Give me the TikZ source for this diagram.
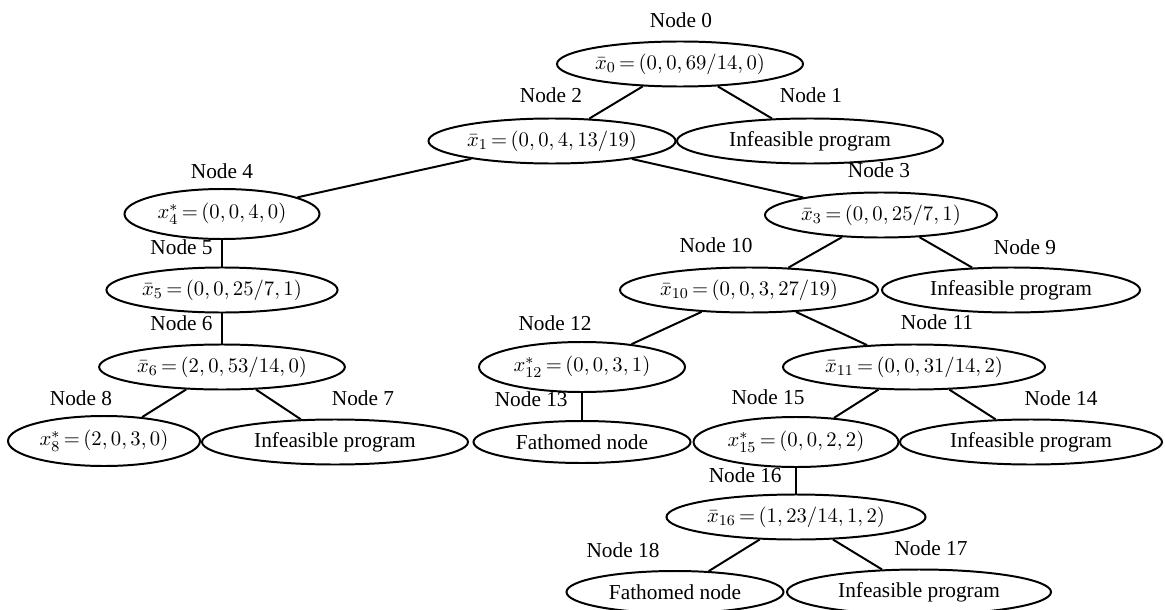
\documentclass[tikz,border=0pt]{standalone}
\usepackage{amsmath}
\usepackage{fontspec}
\setmainfont{Liberation Serif}
\usepackage{tikz}
\usetikzlibrary{shapes.geometric}
\thickmuskip=3mu
\medmuskip=2mu

\tikzset{
  bbnode/.style={draw, ellipse, line width=1.05pt, inner sep=1pt,
    minimum width=#1*0.53pt, minimum height=45*0.53pt},
  bbstar/.style={minimum height=50*0.53pt},
  bbfath/.style={minimum height=42*0.53pt},
  bblabel/.style={inner sep=0pt},
  bbedge/.style={line width=1.05pt}
}

\begin{document}
\begin{tikzpicture}[x=0.53pt,y=0.53pt,yscale=-1,xscale=1,font=\fontsize{11.3}{13.6}\selectfont]
\useasboundingbox (0,0) rectangle (1165,610);

%Ellipses: level 0 and 1
\node[bbnode=246] (n0) at (680,64) {$\bar{x}_0 = (0,0,69/14,0)$};
\node[bbnode=247] (n2) at (552,141) {$\bar{x}_1 = (0,0,4,13/19)$};
\node[bbnode=266] (n1) at (810,141) {Infeasible program};
%Ellipses: level 2
\node[bbnode=195,bbstar] (n4) at (222,214) {$x^*_4 = (0,0,4,0)$};
\node[bbnode=232] (n3) at (881,215) {$\bar{x}_3 = (0,0,25/7,1)$};
%Ellipses: level 3
\node[bbnode=231] (n5) at (222,290) {$\bar{x}_5 = (0,0,25/7,1)$};
\node[bbnode=258] (n10) at (749,290) {$\bar{x}_{10} = (0,0,3,27/19)$};
\node[bbnode=258] (n9) at (1011,290) {Infeasible program};
%Ellipses: level 4
\node[bbnode=245] (n6) at (222,367) {$\bar{x}_6 = (2,0,53/14,0)$};
\node[bbnode=206,bbstar] (n12) at (582,367) {$x^*_{12} = (0,0,3,1)$};
\node[bbnode=262] (n11) at (914,367) {$\bar{x}_{11} = (0,0,31/14,2)$};
%Ellipses: level 5
\node[bbnode=192,bbstar] (n8) at (104,441) {$x^*_8 = (2,0,3,0)$};
\node[bbnode=266] (n7) at (335,442) {Infeasible program};
\node[bbnode=217,bbfath] (n13) at (582,442) {Fathomed node};
\node[bbnode=205,bbstar] (n15) at (796,442) {$x^*_{15} = (0,0,2,2)$};
\node[bbnode=262] (n14) at (1031,442) {Infeasible program};
%Ellipses: level 6 and 7
\node[bbnode=259] (n16) at (796,517) {$\bar{x}_{16} = (1,23/14,1,2)$};
\node[bbnode=217,bbfath] (n18) at (675,592) {Fathomed node};
\node[bbnode=264] (n17) at (919,592) {Infeasible program};

%Labels
\node[bblabel] (l0) at (681,20) {Node 0};
\node[bblabel] (l2) at (551,95) {Node 2};
\node[bblabel] (l1) at (811,95) {Node 1};
\node[bblabel] (l4) at (222,171) {Node 4};
\node[bblabel] (l3) at (879,170) {Node 3};
\node[bblabel,anchor=east] (l5) at (213,247) {Node 5};
\node[bblabel,anchor=east] (l6) at (213,323) {Node 6};
\node[bblabel] (l10) at (716,245) {Node 10};
\node[bblabel] (l9) at (1025,247) {Node 9};
\node[bblabel] (l12) at (555,323) {Node 12};
\node[bblabel] (l11) at (937,322) {Node 11};
\node[bblabel] (l8) at (81,398) {Node 8};
\node[bblabel] (l7) at (363,398) {Node 7};
\node[bblabel,anchor=east] (l13) at (568,399) {Node 13};
\node[bblabel] (l15) at (768,397) {Node 15};
\node[bblabel] (l14) at (1061,398) {Node 14};
\node[bblabel,anchor=east] (l16) at (782,475) {Node 16};
\node[bblabel] (l18) at (623,550) {Node 18};
\node[bblabel] (l17) at (931,548) {Node 17};

%Branches
\draw[bbedge] (n0) -- (n2);
\draw[bbedge] (n0) -- (n1);
\draw[bbedge] (n2) -- (n4);
\draw[bbedge] (n2) -- (n3);
\draw[bbedge] (n4) -- (n5);
\draw[bbedge] (n5) -- (n6);
\draw[bbedge] (n6) -- (n8);
\draw[bbedge] (n6) -- (n7);
\draw[bbedge] (n3) -- (n10);
\draw[bbedge] (n3) -- (n9);
\draw[bbedge] (n10) -- (n12);
\draw[bbedge] (n10) -- (n11);
\draw[bbedge] (n12) -- (n13);
\draw[bbedge] (n11) -- (n15);
\draw[bbedge] (n11) -- (n14);
\draw[bbedge] (n15) -- (n16);
\draw[bbedge] (n16) -- (n18);
\draw[bbedge] (n16) -- (n17);

\end{tikzpicture}
\end{document}
